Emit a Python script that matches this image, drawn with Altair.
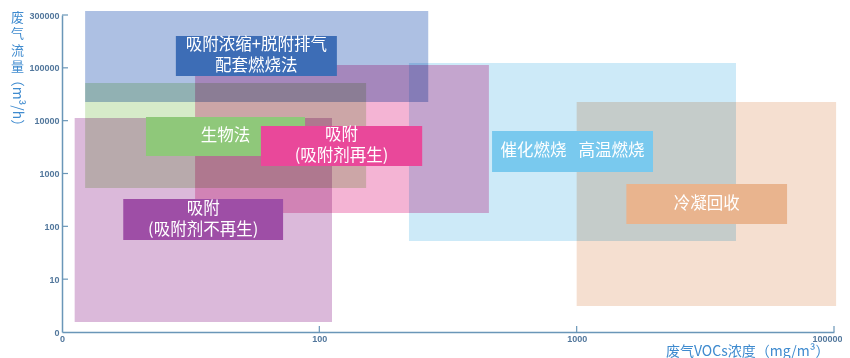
import math
import altair as alt
import pandas as pd

# ---- data (display units of the log axes) ----
region_names = ["吸附浓缩+脱附排气配套燃烧法", "生物法", "吸附(吸附剂再生)", "吸附(吸附剂不再生)", "催化燃烧 高温燃烧", "冷凝回收"]
region_x1 = [1.23, 1.23, 3.29, 1.12, 22.3, 100.0]
region_x2 = [26.5, 15.2, 45.6, 11.2, 416.0, 1019.0]
region_y1 = [22600, 532, 179, 1.55, 52.8, 3.1]
region_y2 = [1190000, 51700, 113000, 11250, 123600, 22600]
region_colors = ["#adc0e3", "#d6ebc9", "#f4b4d4", "#dbb9da", "#cdeaf8", "#f5dfd0"]

box_labels = ["吸附浓缩+脱附排气\n配套燃烧法", "生物法", "吸附\n(吸附剂再生)", "吸附\n(吸附剂不再生)", "催化燃烧\u2002 高温燃烧", "冷凝回收"]
box_x1 = [2.77, 2.12, 5.93, 1.73, 46.9, 156.0]
box_x2 = [11.7, 8.80, 25.1, 7.23, 198.0, 657.0]
box_y1 = [70100, 2145, 1387, 55, 1068, 111]
box_y2 = [401000, 11740, 7930, 329, 6380, 633]
box_colors = ["#3d6db6", "#8fc87a", "#e9489a", "#9e4ea6", "#79c9ee", "#e9b48e"]

x_tick_values = [1, 10, 100, 1000]
x_tick_labels = ["0", "100", "1000", "100000"]
y_tick_values = [1, 10, 100, 1000, 10000, 100000, 1000000]
y_tick_labels = ["0", "10", "100", "1000", "10000", "100000", "300000"]

x_title = "废气VOCs浓度（mg/m³）"
y_title_chars = ["废", "气", "流", "量"]
y_unit = "（m³/h）"

# ---- tables ----
regions = pd.DataFrame({"name": region_names, "x1": region_x1, "x2": region_x2,
                        "y1": region_y1, "y2": region_y2})
boxes = pd.DataFrame({"label": box_labels, "x1": box_x1, "x2": box_x2,
                      "y1": box_y1, "y2": box_y2})
boxes["cx"] = [math.sqrt(a * b) for a, b in zip(box_x1, box_x2)]
boxes["cy"] = [math.sqrt(a * b) for a, b in zip(box_y1, box_y2)]
boxes["key"] = [str(i) for i in range(len(boxes))]
boxes["lines"] = [lab.count("\n") + 1 for lab in box_labels]
xticks = pd.DataFrame({"v": x_tick_values[1:]})
yticks = pd.DataFrame({"v": y_tick_values[1:]})
unit_df = pd.DataFrame({"t": [y_unit]})


def label_expr(values, labels):
    expr = "''"
    for v, l in reversed(list(zip(values, labels))):
        expr = f"datum.value == {v} ? '{l}' : ({expr})"
    return expr


AXIS_COLOR = "#6a96b8"
LABEL_COLOR = "#52779c"
TITLE_COLOR = "#3f8bcf"
W, H = 772, 317

xs = alt.Scale(type="log", domain=[1, 1000], nice=False)
ys = alt.Scale(type="log", domain=[1, 1000000], nice=False)

last_x = x_tick_values[-1]
x_axis = alt.Axis(values=x_tick_values, labelExpr=label_expr(x_tick_values, x_tick_labels),
                  ticks=False, grid=False, domainColor=AXIS_COLOR, domainWidth=1.5,
                  labelFont="Liberation Sans", labelFontWeight="bold", labelFontSize=9,
                  labelColor=LABEL_COLOR, labelPadding=2, labelFlush=False,
                  labelAlign={"condition": {"test": f"datum.value == {last_x}", "value": "right"}, "value": "center"},
                  labelOffset={"condition": {"test": f"datum.value == {last_x}", "value": 8}, "value": 0},
                  title=x_title, titleFont="Noto Sans CJK SC", titleFontSize=14,
                  titleFontWeight="normal", titleColor=TITLE_COLOR, titleAnchor="end",
                  titleAlign="right", titleX=767, titleY=19, titleBaseline="middle")
y_axis = alt.Axis(values=y_tick_values, labelExpr=label_expr(y_tick_values, y_tick_labels),
                  ticks=False, grid=False, domainColor=AXIS_COLOR, domainWidth=1.5,
                  labelFont="Liberation Sans", labelFontWeight="bold", labelFontSize=9,
                  labelColor=LABEL_COLOR, labelPadding=3, labelFlush=False,
                  title=y_title_chars, titleAngle=0, titleFont="Noto Sans CJK SC",
                  titleFontSize=13, titleFontWeight="normal", titleColor=TITLE_COLOR,
                  titleLineHeight=16.5, titleX=-45, titleY=-4, titleBaseline="top",
                  titleAlign="center")


def X(field):
    return alt.X(field, scale=xs, axis=x_axis)


def Y(field):
    return alt.Y(field, scale=ys, axis=y_axis)


region_layer = alt.Chart(regions).mark_rect(blend="multiply").encode(
    x=X("x1:Q"), x2="x2:Q", y=Y("y1:Q"), y2="y2:Q",
    color=alt.Color("name:N", scale=alt.Scale(domain=region_names, range=region_colors), legend=None),
)

ytick_layer = alt.Chart(yticks).mark_rule(color=AXIS_COLOR, strokeWidth=1.2).encode(
    y=Y("v:Q"), x=alt.value(0), x2=alt.value(6))
xtick_layer = alt.Chart(xticks).mark_rule(color=AXIS_COLOR, strokeWidth=1.2).encode(
    x=X("v:Q"), y=alt.value(H), y2=alt.value(H - 6))

box_layer = alt.Chart(boxes).mark_rect().encode(
    x=X("x1:Q"), x2="x2:Q", y=Y("y1:Q"), y2="y2:Q",
    fill=alt.Fill("key:N", scale=alt.Scale(domain=list(boxes["key"]), range=box_colors), legend=None),
)

text_style = dict(color="white", font="Noto Sans CJK SC", fontSize=16.5, lineBreak="\n",
                  lineHeight=21, align="center", baseline="middle")
text_one = alt.Chart(boxes).transform_filter("datum.lines == 1").mark_text(**text_style).encode(
    x=X("cx:Q"), y=Y("cy:Q"), text="label:N")
text_two = alt.Chart(boxes).transform_filter("datum.lines == 2").mark_text(dy=-10.5, **text_style).encode(
    x=X("cx:Q"), y=Y("cy:Q"), text="label:N")

unit_layer = alt.Chart(unit_df).mark_text(
    angle=90, color=TITLE_COLOR, font="Noto Sans CJK SC", fontSize=14,
    align="center", baseline="middle").encode(
    x=alt.value(-45), y=alt.value(88), text="t:N")

chart = alt.layer(region_layer, ytick_layer, xtick_layer, box_layer, text_one, text_two, unit_layer).properties(
    width=W, height=H,
    autosize=alt.AutoSizeParams(type="none"),
    padding={"left": 54, "top": 7, "right": 8, "bottom": 30},
).configure_view(stroke=None)

chart.save("out.html", embed_options={"renderer": "svg", "actions": False})
